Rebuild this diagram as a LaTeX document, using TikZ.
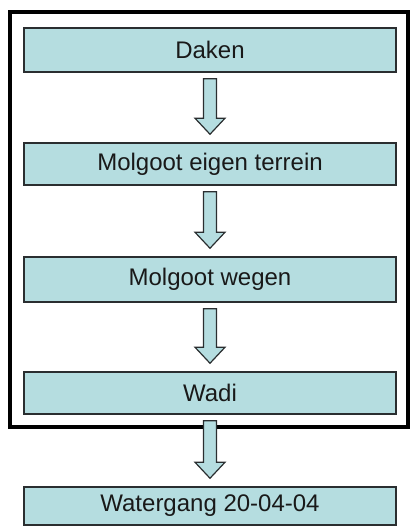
\documentclass[tikz,border=0pt]{standalone}
\usepackage{fontspec}
\setmainfont{Liberation Sans}
\usetikzlibrary{calc}
\definecolor{boxfill}{HTML}{B5DDE0}
\definecolor{boxline}{HTML}{2A2E30}
\tikzset{
  stepbox/.style={draw=boxline, line width=1.5pt, fill=boxfill, rectangle,
    minimum width=372pt, inner sep=0pt, text=black!90,
    font=\fontsize{24}{28}\selectfont},
  arrowbody/.style={draw=boxline, line width=1.2pt, fill=boxfill, line join=miter},
  frameline/.style={draw=black, line width=4pt}
}
% hollow block arrow from the bottom of one box to the top of the next
\newcommand\flowarrow[2]{%
  \draw[arrowbody] let \p1=(#1.south), \p2=(#2.north) in
    (\x1-6.5pt,\y1-6pt) -- (\x1+6.5pt,\y1-6pt) -- (\x1+6.5pt,\y2+24pt)
    -- (\x1+15pt,\y2+24pt) -- (\x1,\y2+8pt) -- (\x1-15pt,\y2+24pt)
    -- (\x1-6.5pt,\y2+24pt) -- cycle;}
\begin{document}
\begin{tikzpicture}[x=1pt,y=-1pt]
  \useasboundingbox (0,0) rectangle (410,526);
  % outer frame around the first four steps
  \draw[frameline] (9.5,12.5) rectangle (408,427);
  \node[stepbox, minimum height=44pt] (daken)  at (210,50)    {Daken};
  \node[stepbox, minimum height=42pt] (eigen)  at (210,164)   {Molgoot eigen terrein};
  \node[stepbox, minimum height=45pt] (wegen)  at (210,279.5) {Molgoot wegen};
  \node[stepbox, minimum height=42pt] (wadi)   at (210,393)   {Wadi};
  \node[stepbox, minimum height=38pt] (water)  at (210,506)   {Watergang 20-04-04};
  \flowarrow{daken}{eigen}
  \flowarrow{eigen}{wegen}
  \flowarrow{wegen}{wadi}
  \flowarrow{wadi}{water}
\end{tikzpicture}
\end{document}
